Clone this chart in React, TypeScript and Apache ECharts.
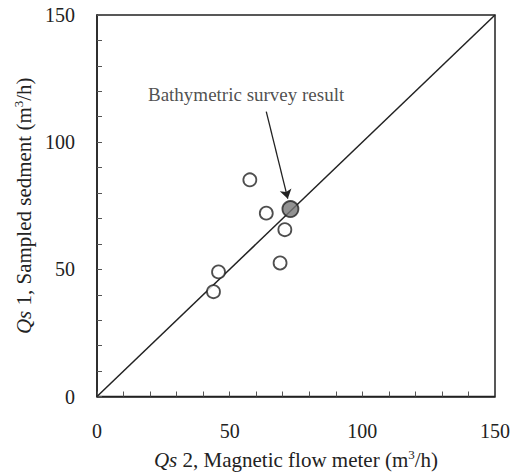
import React, { useEffect, useRef } from "react";
import * as echarts from "echarts";

const openX = [57.6, 63.8, 70.8, 69.0, 45.8, 43.9];
const openY = [85.2, 72.1, 65.6, 52.5, 49.0, 41.2];
const surveyX = [72.9];
const surveyY = [73.7];
const lineX = [0, 150];
const lineY = [0, 150];
const arrowStart = [63.8, 112];
const arrowEnd = [71.9, 77.8];
const noteXY = [56.2, 118.8];
const noteText = "Bathymetric survey result";
const xTicks = [0, 50, 100, 150];
const yTicks = [0, 50, 100, 150];

const FONT = "'Liberation Serif', 'Times New Roman', serif";
const INK = "#222";
const TITLE = 21;

export default function App() {
  const ref = useRef<HTMLDivElement>(null);
  useEffect(() => {
    document.body.style.margin = "0";
    const chart = echarts.init(ref.current!, null, { renderer: "svg" });
    const axisCommon = (ticks: number[], margin: number) => ({
      type: "value",
      min: 0,
      max: 150,
      interval: 10,
      axisLine: { show: true, lineStyle: { color: INK, width: 1.5 } },
      axisTick: { show: true, inside: true, length: 5, lineStyle: { color: "#555", width: 1 } },
      splitLine: { show: false },
      axisLabel: {
        color: INK,
        fontFamily: FONT,
        fontSize: 20,
        margin,
        formatter: (v: number) => (ticks.includes(v) ? String(v) : ""),
      },
    });
    const rich = {
      i: { fontStyle: "italic", fontSize: TITLE, fontFamily: FONT, color: INK, lineHeight: 24 },
      n: { fontSize: TITLE, fontFamily: FONT, color: INK, lineHeight: 24 },
      s: { fontSize: 13, fontFamily: FONT, color: INK, verticalAlign: "top", lineHeight: 24 },
    };
    chart.setOption({
      animation: false,
      backgroundColor: "#fff",
      textStyle: { fontFamily: FONT },
      grid: {
        left: 97,
        right: 12,
        top: 15,
        bottom: 75,
        show: true,
        borderColor: INK,
        borderWidth: 1.5,
      },
      xAxis: {
        ...axisCommon(xTicks, 24),
        name: "{i|Qs} {n|2, Magnetic flow meter (m}{s|3}{n|/h)}",
        nameLocation: "middle",
        nameGap: 51,
        nameTextStyle: { color: INK, fontFamily: FONT, fontSize: TITLE, rich },
      },
      yAxis: {
        ...axisCommon(yTicks, 22),
        name: "{i|Qs} {n|1, Sampled sedment (m}{s|3}{n|/h)}",
        nameLocation: "middle",
        nameGap: 54,
        nameRotate: 90,
        nameTextStyle: { color: INK, fontFamily: FONT, fontSize: TITLE, rich },
      },
      series: [
        {
          type: "line",
          data: lineX.map((x, i) => [x, lineY[i]]),
          symbol: "none",
          lineStyle: { color: INK, width: 1.5 },
          silent: true,
          z: 1,
        },
        {
          type: "scatter",
          data: openX.map((x, i) => [x, openY[i]]),
          symbol: "circle",
          symbolSize: 13,
          itemStyle: { color: "#fff", borderColor: INK, borderWidth: 1.8 },
          z: 3,
        },
        {
          type: "scatter",
          data: surveyX.map((x, i) => [x, surveyY[i]]),
          symbol: "circle",
          symbolSize: 16,
          itemStyle: { color: "#777", borderColor: INK, borderWidth: 1.8 },
          z: 4,
        },
        {
          type: "scatter",
          data: [{ value: noteXY, name: noteText }],
          symbolSize: 0,
          silent: true,
          z: 6,
          label: {
            show: true,
            position: "inside",
            formatter: noteText,
            color: INK,
            fontFamily: FONT,
            fontSize: 19,
          },
          markLine: {
            silent: true,
            z: 6,
            symbol: ["none", "arrow"],
            symbolSize: 9,
            lineStyle: { color: INK, width: 1.3, type: "solid" },
            itemStyle: { color: INK },
            label: { show: false },
            data: [[{ coord: arrowStart }, { coord: arrowEnd }]],
          },
        },
      ],
    });
    return () => chart.dispose();
  }, []);
  return <div ref={ref} style={{ width: 513, height: 475 }} />;
}
